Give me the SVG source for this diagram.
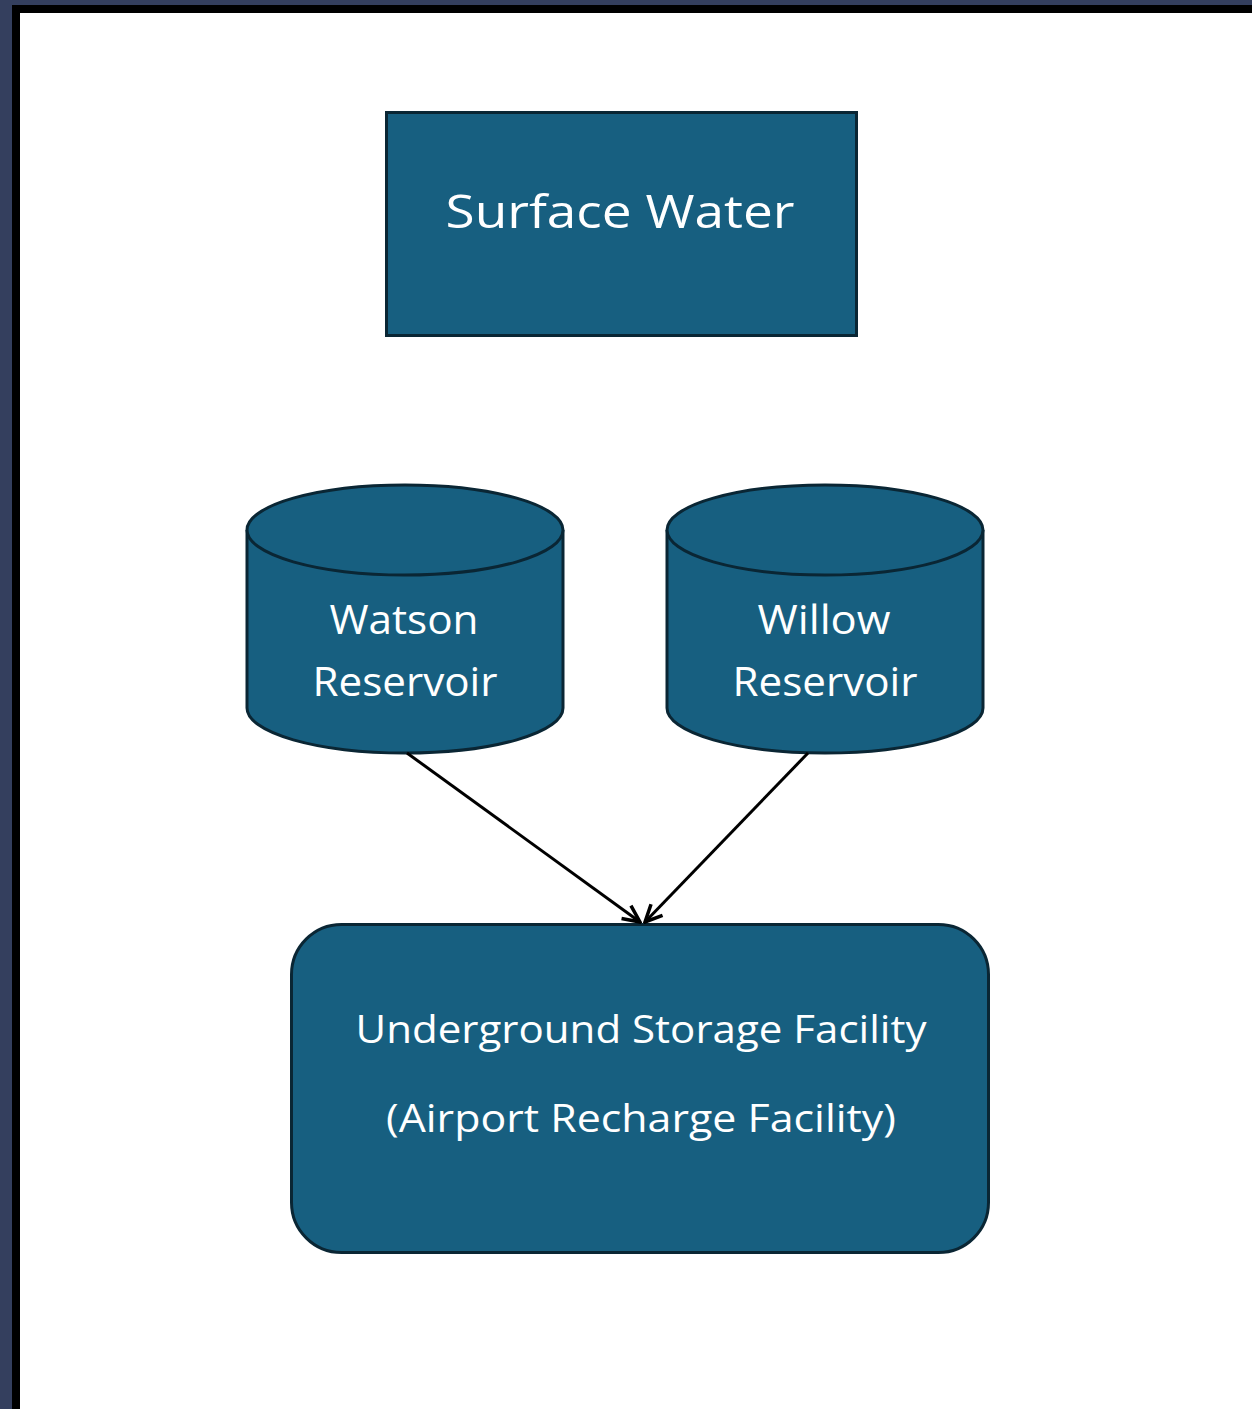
<svg xmlns="http://www.w3.org/2000/svg" width="1252" height="1409" viewBox="0 0 1252 1409">
<style>
.shape{fill:#175f80;stroke:#0a2634;stroke-width:3}
.lbl{font-family:"Open Sans","Liberation Sans",Arial,sans-serif;fill:#ffffff;text-anchor:middle}
.conn{stroke:#000;stroke-width:3;fill:none}
</style>
<defs>
<marker id="arr" viewBox="0 0 22 22" refX="20" refY="11" markerWidth="22" markerHeight="22" markerUnits="userSpaceOnUse" orient="auto">
<path d="M3,3 L20,11 L3,19" fill="none" stroke="#000" stroke-width="3.5"/>
</marker>
</defs>
<rect x="0" y="0" width="1252" height="1409" fill="#343f5e"/>
<rect x="12" y="5" width="1240" height="1404" fill="#000"/>
<rect x="20" y="13" width="1232" height="1396" fill="#fff"/>
<g id="surface-water">
<rect class="shape" x="386.5" y="112.5" width="470" height="223"/>
<text class="lbl" x="620" y="228" font-size="46" textLength="349" lengthAdjust="spacingAndGlyphs">Surface Water</text>
</g>
<g id="watson-reservoir">
<path class="shape" d="M247,530 L247,708 A158,45 0 0 0 563,708 L563,530 A158,45 0 0 0 247,530 Z"/>
<path class="shape" d="M247,530 A158,45 0 0 0 563,530"/>
<text class="lbl" x="404" y="634" font-size="40" textLength="149" lengthAdjust="spacingAndGlyphs">Watson</text>
<text class="lbl" x="405" y="696" font-size="40" textLength="185" lengthAdjust="spacingAndGlyphs">Reservoir</text>
</g>
<g id="willow-reservoir">
<path class="shape" d="M667,530 L667,708 A158,45 0 0 0 983,708 L983,530 A158,45 0 0 0 667,530 Z"/>
<path class="shape" d="M667,530 A158,45 0 0 0 983,530"/>
<text class="lbl" x="824" y="634" font-size="40" textLength="133" lengthAdjust="spacingAndGlyphs">Willow</text>
<text class="lbl" x="825" y="696" font-size="40" textLength="185" lengthAdjust="spacingAndGlyphs">Reservoir</text>
</g>
<g id="underground-storage">
<rect class="shape" x="291.5" y="924.5" width="697" height="328" rx="50" ry="50"/>
<text class="lbl" x="641" y="1043" font-size="38" textLength="571" lengthAdjust="spacingAndGlyphs">Underground Storage Facility</text>
<text class="lbl" x="641" y="1132" font-size="38" textLength="510" lengthAdjust="spacingAndGlyphs">(Airport Recharge Facility)</text>
</g>
<g id="connectors">
<line class="conn" x1="407" y1="753" x2="640" y2="922" marker-end="url(#arr)"/>
<line class="conn" x1="808" y1="753" x2="645" y2="922" marker-end="url(#arr)"/>
</g>
</svg>
